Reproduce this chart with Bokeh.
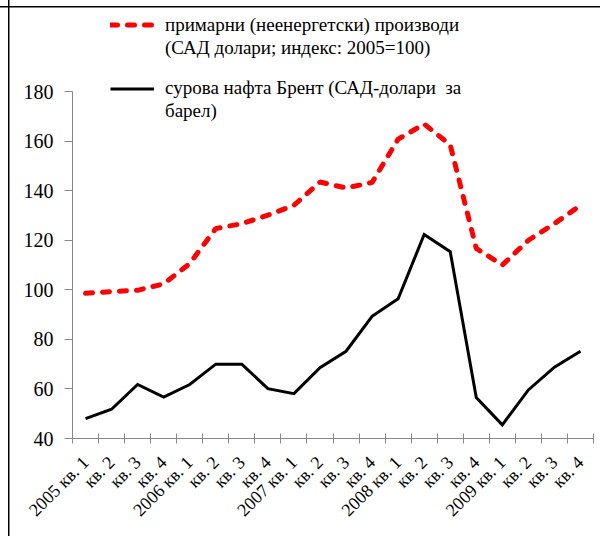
import numpy as np
from bokeh.plotting import figure
from bokeh.models import FixedTicker, Range1d, Legend, LegendItem
from bokeh.embed import file_html
from bokeh.resources import INLINE

quarters = ["2005 кв. 1", "кв. 2", "кв. 3", "кв. 4",
            "2006 кв. 1", "кв. 2", "кв. 3", "кв. 4",
            "2007 кв. 1", "кв. 2", "кв. 3", "кв. 4",
            "2008 кв. 1", "кв. 2", "кв. 3", "кв. 4",
            "2009 кв. 1", "кв. 2", "кв. 3", "кв. 4"]
primary = [98.6, 99.3, 99.8, 102.4, 110.6, 124.7, 126.7, 130.1, 134.1, 143.5,
           141.1, 143.3, 160.8, 166.9, 158.5, 116.7, 110.0, 120.0, 126.7, 134.1]
brent = [48.0, 51.8, 61.8, 56.7, 61.8, 70.0, 70.0, 60.1, 58.1, 68.6,
         75.2, 89.3, 96.4, 122.3, 115.4, 56.5, 45.5, 59.6, 68.8, 75.2]
y_ticks = [40, 60, 80, 100, 120, 140, 160, 180]
label_primary = ["примарни (неенергетски) производи", "(САД долари; индекс: 2005=100)"]
label_brent = ["сурова нафта Брент (САД-долари  за", "барел)"]

FONT = "Liberation Serif"
x = list(range(len(quarters)))

frame_rules = ("linear-gradient(#000, #000) 7.5px 0 / 1.5px 100% no-repeat, "
               "linear-gradient(#000, #000) 0 5.5px / 100% 1.5px no-repeat, #ffffff")

p = figure(width=600, height=536, output_backend="svg", toolbar_location=None,
           x_range=Range1d(-0.5, len(quarters) - 0.5), y_range=Range1d(40, 211.5),
           min_border_left=72, min_border_right=7, min_border_top=13, min_border_bottom=98,
           styles={"background": frame_rules})
p.outline_line_color = None
p.grid.visible = False
p.background_fill_color = "white"
p.border_fill_color = None

r1 = p.line(x, primary, line_color="#ff0000", line_width=5, line_dash="7 10", line_cap="round")
r2 = p.line(x, brent, line_color="black", line_width=3, line_join="miter")
blank = p.line([], [], line_alpha=0)

ax = p.xaxis[0]
ax.ticker = FixedTicker(ticks=x, minor_ticks=[i - 0.5 for i in range(len(quarters) + 1)])
ax.major_label_overrides = {i: q for i, q in enumerate(quarters)}
ax.major_tick_line_color = None
ax.minor_tick_in = 5
ax.minor_tick_out = 5
ax.minor_tick_line_color = "#888888"
ax.axis_line_color = "#888888"
ax.major_label_orientation = np.pi / 4
ax.major_label_text_font = FONT
ax.major_label_text_font_size = "18px"
ax.major_label_text_color = "black"
ax.major_label_standoff = 15

ay = p.yaxis[0]
ay.ticker = FixedTicker(ticks=y_ticks, minor_ticks=[])
ay.bounds = (40, 180)
ay.major_tick_in = 0
ay.major_tick_out = 8
ay.major_tick_line_color = "#888888"
ay.axis_line_color = "#888888"
ay.major_label_text_font = FONT
ay.major_label_text_font_size = "20px"
ay.major_label_text_color = "black"
ay.major_label_standoff = 11


def make_legend(renderer, lines, loc):
    lg = Legend(items=[LegendItem(label=lines[0], renderers=[renderer]),
                       LegendItem(label=lines[1], renderers=[blank])],
                location=loc, margin=0, padding=0, spacing=0,
                glyph_width=44, glyph_height=23, label_height=23, label_standoff=11,
                label_text_font=FONT, label_text_font_size="19px",
                label_text_color="black",
                border_line_color=None, background_fill_alpha=0)
    p.add_layout(lg)


make_legend(r1, label_primary, (38, 379))
make_legend(r2, label_brent, (38, 315.5))

open("out.html", "w").write(file_html(p, INLINE))
